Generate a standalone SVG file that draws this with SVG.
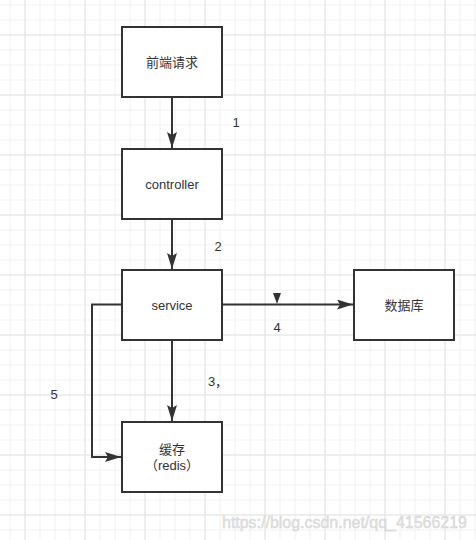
<svg xmlns="http://www.w3.org/2000/svg" width="476" height="540" viewBox="0 0 476 540">
<defs>
<pattern id="gs" width="15" height="15" patternUnits="userSpaceOnUse" x="9.5" y="4.5">
<path d="M0 0.5H15M0.5 0V15" fill="none" stroke="#f0f0f0" stroke-width="1"/>
</pattern>
<pattern id="gl" width="60" height="60" patternUnits="userSpaceOnUse" x="24.5" y="34.5">
<path d="M0 0.5H60M0.5 0V60" fill="none" stroke="#e4e4e4" stroke-width="1"/>
</pattern>
<marker id="ah" viewBox="0 0 16 10" refX="16" refY="5" markerWidth="16" markerHeight="10" markerUnits="userSpaceOnUse" orient="auto">
<path d="M0 0L16 5L0 10L3 5Z" fill="#333"/>
</marker>
</defs>
<style>
.box{fill:#fff;stroke:#333;stroke-width:2}
.lbl{font-family:"Liberation Sans","Noto Sans CJK SC",sans-serif;font-size:13px;fill:#333;text-anchor:middle;dominant-baseline:central}
.edge{fill:none;stroke:#333;stroke-width:2}
</style>
<rect width="476" height="540" fill="#fff"/>
<rect width="476" height="540" fill="url(#gs)"/>
<rect width="476" height="540" fill="url(#gl)"/>
<g id="connectors">
<path class="edge" d="M172 97V148" marker-end="url(#ah)"/>
<path class="edge" d="M172 219V269" marker-end="url(#ah)"/>
<path class="edge" d="M222 304.5H353" marker-end="url(#ah)"/>
<path d="M273 293L281 293L277 304Z" fill="#333"/>
<path class="edge" d="M172 340V421" marker-end="url(#ah)"/>
<path class="edge" d="M122 304.5H92V457H121" marker-end="url(#ah)"/>
<text class="lbl" x="236" y="122">1</text>
<text class="lbl" x="218" y="246">2</text>
<text class="lbl" x="218" y="381">3，</text>
<text class="lbl" x="277" y="327">4</text>
<text class="lbl" x="54" y="394">5</text>
</g>
<g id="node-frontend">
<rect class="box" x="122" y="27" width="100" height="70"/>
<text class="lbl" x="172" y="62">前端请求</text>
</g>
<g id="node-controller">
<rect class="box" x="122" y="149" width="100" height="70"/>
<text class="lbl" x="172" y="184">controller</text>
</g>
<g id="node-service">
<rect class="box" x="122" y="270" width="100" height="70"/>
<text class="lbl" x="172" y="305">service</text>
</g>
<g id="node-database">
<rect class="box" x="354" y="270" width="100" height="70"/>
<text class="lbl" x="404" y="305">数据库</text>
</g>
<g id="node-cache">
<rect class="box" x="122" y="422" width="100" height="70"/>
<text class="lbl" x="172" y="449">缓存</text>
<text class="lbl" x="172" y="465">（redis）</text>
</g>
<text x="222" y="528" font-family="'Liberation Sans',sans-serif" font-size="16" fill="#e0e0e0" stroke="#d4d4d4" stroke-width="0.4" textLength="245">https://blog.csdn.net/qq_41566219</text>
</svg>
